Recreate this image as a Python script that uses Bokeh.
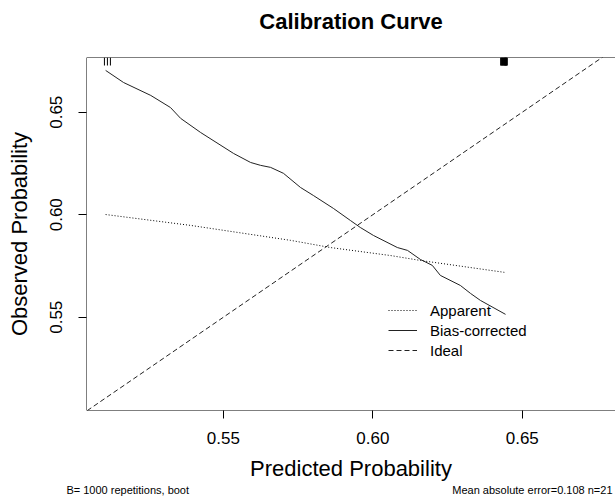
from bokeh.plotting import figure
from bokeh.models import Range1d, FixedTicker, Legend, LegendItem, Span, LinearAxis
from bokeh.embed import file_html
from bokeh.resources import INLINE

# ---- data ----
bias_x = [0.5106, 0.5166, 0.5257, 0.5323, 0.5357, 0.5424, 0.5534, 0.5591, 0.5624,
          0.5658, 0.5701, 0.5758, 0.5801, 0.5868, 0.5925, 0.5958, 0.6002, 0.6082,
          0.6116, 0.6159, 0.6199, 0.6226, 0.6293, 0.6327, 0.6360, 0.6444]
bias_y = [0.6704, 0.6645, 0.6582, 0.6523, 0.6470, 0.6401, 0.6299, 0.6255, 0.6241,
          0.6231, 0.6202, 0.6133, 0.6094, 0.6031, 0.5972, 0.5938, 0.5899, 0.5840,
          0.5826, 0.5782, 0.5753, 0.5704, 0.5655, 0.5616, 0.5582, 0.5514]
app_x = [0.5106, 0.5390, 0.5725, 0.5858, 0.6059, 0.6159, 0.6440]
app_y = [0.6001, 0.5948, 0.5875, 0.5840, 0.5801, 0.5777, 0.5719]
ideal_x = [0.50, 0.70]
ideal_y = [0.50, 0.70]
rug_x = [0.5102, 0.5112, 0.5122,
         0.6428, 0.6429, 0.6431, 0.6432, 0.6434, 0.6435, 0.6437, 0.6438, 0.6440,
         0.6441, 0.6442, 0.6443, 0.6444, 0.6445, 0.6446, 0.6447, 0.6448, 0.6450]
ticks = [0.55, 0.60, 0.65]
tick_labels = {0.55: "0.55", 0.60: "0.60", 0.65: "0.65"}
title_text = "Calibration Curve"
footnote_left = "B= 1000 repetitions, boot"
footnote_right = "Mean absolute error=0.108 n=21"
x_lim = (0.5042, 0.6812)
y_lim = (0.5045, 0.6767)

FONT = "Liberation Sans"

p = figure(frame_width=529, frame_height=353,
           x_range=Range1d(*x_lim), y_range=Range1d(*y_lim),
           output_backend="svg", toolbar_location=None,
           min_border_left=86, min_border_right=0, min_border_top=57, min_border_bottom=88,
           background_fill_color="white", border_fill_color="white")
p.grid.visible = False
p.outline_line_color = None

for ax in (p.xaxis[0], p.yaxis[0]):
    ax.ticker = FixedTicker(ticks=ticks)
    ax.major_label_overrides = tick_labels
    ax.axis_line_color = None
    ax.minor_tick_line_color = None
    ax.major_tick_in = 0
    ax.major_tick_out = 8
    ax.major_tick_line_color = "black"
    ax.major_label_text_font = FONT
    ax.major_label_text_font_size = "17px"
    ax.major_label_text_color = "black"
    ax.axis_label_text_font = FONT
    ax.axis_label_text_font_size = "22px"
    ax.axis_label_text_font_style = "normal"
    ax.axis_label_text_color = "black"

p.xaxis.axis_label = "Predicted Probability"
p.yaxis.axis_label = "Observed Probability"
p.xaxis.major_label_standoff = 13
p.xaxis.axis_label_standoff = 9
p.yaxis.major_label_orientation = "vertical"
p.yaxis.major_label_standoff = 16
p.yaxis.axis_label_standoff = 16

# title as a label-only axis above the frame, centred on the frame
title_pos = (x_lim[0] + x_lim[1]) / 2
title_axis = LinearAxis(ticker=FixedTicker(ticks=[title_pos]),
                        major_label_overrides={title_pos: title_text},
                        axis_line_color=None, major_tick_line_color=None, minor_tick_line_color=None,
                        major_tick_in=0, major_tick_out=0, major_label_standoff=24,
                        major_label_text_font=FONT, major_label_text_font_size="22px",
                        major_label_text_font_style="bold", major_label_text_color="black")
p.add_layout(title_axis, "above")

# footnotes as an extra bottom axis with two labelled ticks
foot_pos = [0.5180, 0.6534]
foot_axis = LinearAxis(ticker=FixedTicker(ticks=foot_pos),
                       major_label_overrides={foot_pos[0]: footnote_left, foot_pos[1]: footnote_right},
                       axis_line_color=None, major_tick_line_color=None, minor_tick_line_color=None,
                       major_tick_in=0, major_tick_out=0, major_label_standoff=0,
                       major_label_text_font=FONT, major_label_text_font_size="11px",
                       major_label_text_color="black")
p.add_layout(foot_axis, "below")

# box (left, top, bottom)
p.add_layout(Span(location=x_lim[0], dimension="height", line_color="black", line_width=1))
p.add_layout(Span(location=y_lim[1], dimension="width", line_color="black", line_width=1))
p.add_layout(Span(location=y_lim[0], dimension="width", line_color="black", line_width=1))

r_app = p.line(app_x, app_y, line_color="black", line_width=1, line_dash="1 2")
r_bias = p.line(bias_x, bias_y, line_color="#222222", line_width=1)
r_ideal = p.line(ideal_x, ideal_y, line_color="#222222", line_width=1, line_dash="5 3")

# rug at top
rug_len = (y_lim[1] - y_lim[0]) * 8 / 353
p.segment(x0=rug_x, y0=[y_lim[1]] * len(rug_x), x1=rug_x,
          y1=[y_lim[1] - rug_len] * len(rug_x), line_color="black", line_width=1)

legend = Legend(items=[LegendItem(label="Apparent", renderers=[r_app]),
                       LegendItem(label="Bias-corrected", renderers=[r_bias]),
                       LegendItem(label="Ideal", renderers=[r_ideal])],
                location=(302, 50), border_line_color=None, background_fill_alpha=0,
                padding=0, margin=0, spacing=0, glyph_width=29, glyph_height=20,
                label_height=20, label_standoff=13,
                label_text_font=FONT, label_text_font_size="15px", label_text_color="black")
p.add_layout(legend)

open("out.html", "w").write(file_html(p, INLINE))
